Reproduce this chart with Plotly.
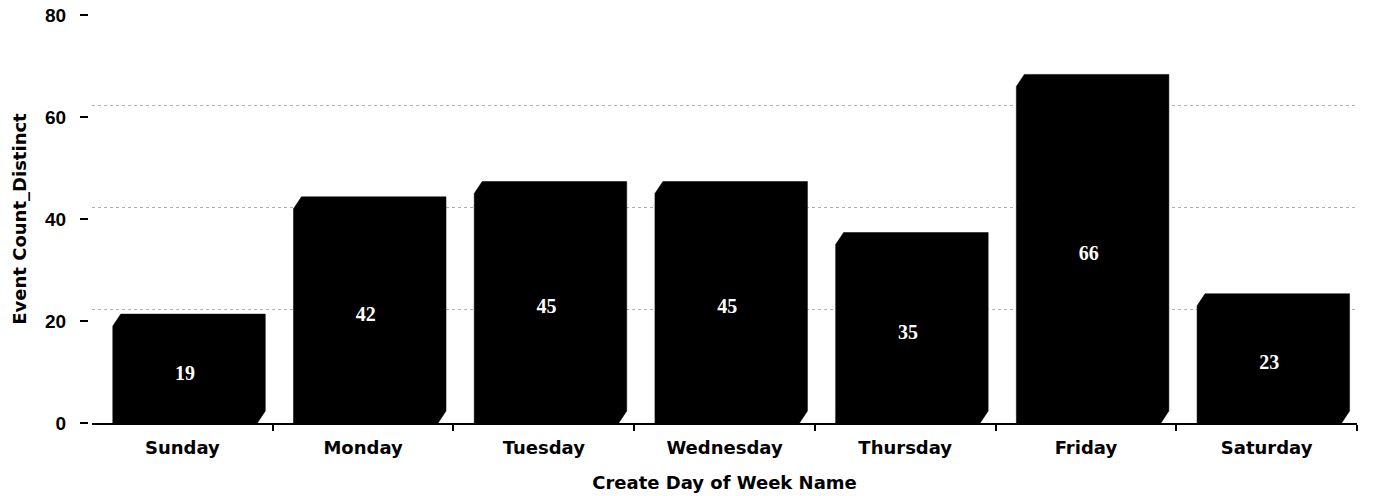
import plotly.graph_objects as go

days = ["Sunday", "Monday", "Tuesday", "Wednesday", "Thursday", "Friday", "Saturday"]
counts = [19, 42, 45, 45, 35, 66, 23]
y_ticks = [0, 20, 40, 60, 80]
x_title = "Create Day of Week Name"
y_title = "Event Count_Distinct"

# geometry of the pseudo-3D bars (in axis units)
BAR_OFFSET = -0.385
BAR_WIDTH = 0.80
DEPTH_X = 0.044
DEPTH_Y = 2.35

fig = go.Figure()

xs = list(range(len(days)))

# each bar: front face + top + right side as one solid polygon
for i, v in zip(xs, counts):
    L = i + BAR_OFFSET
    R = L + BAR_WIDTH
    px = [L, L, L + DEPTH_X, R + DEPTH_X, R + DEPTH_X, R, L]
    py = [0, v, v + DEPTH_Y, v + DEPTH_Y, DEPTH_Y, 0, 0]
    fig.add_trace(go.Scatter(
        x=px, y=py, mode="lines", fill="toself", fillcolor="black",
        line=dict(color="black", width=0.5), showlegend=False, hoverinfo="skip",
    ))

# value labels centred on the front faces
fig.add_trace(go.Scatter(
    x=[i + BAR_OFFSET + BAR_WIDTH / 2 for i in xs], y=[v / 2 for v in counts],
    mode="text", text=[f"<b>{v}</b>" for v in counts],
    textfont=dict(color="white", family="Liberation Serif", size=20),
    showlegend=False, hoverinfo="skip",
))

# dummy trace for the back-wall grid axis
fig.add_trace(go.Scatter(x=[None], y=[None], yaxis="y2", showlegend=False, hoverinfo="skip"))

W, H = 1373, 496
L_M, R_M, T_M, B_M = 88, 16, 15, 73
paper_w = W - L_M - R_M

fig.update_layout(
    width=W, height=H,
    margin=dict(l=L_M, r=R_M, t=T_M, b=B_M),
    paper_bgcolor="white", plot_bgcolor="white",
    font=dict(family="DejaVu Sans", color="black"),
    xaxis=dict(
        domain=[4 / paper_w, 1],
        range=[-0.5, len(days) - 0.5],
        tickvals=xs, ticktext=days, ticks="",
        tickfont=dict(family="DejaVu Sans", size=18, weight="bold"),
        ticklabelstandoff=8,
        showline=True, linecolor="black", linewidth=1.5,
        showgrid=False, zeroline=False, automargin=False,
        minor=dict(tickvals=[i + 0.5 for i in xs], ticks="outside", ticklen=6,
                   tickcolor="black", tickwidth=1.5, showgrid=False),
        title=dict(text=x_title, font=dict(family="DejaVu Sans", size=18, weight="bold"), standoff=19),
        fixedrange=True,
    ),
    yaxis=dict(
        anchor="free", position=0,
        range=[0, 80], tickvals=y_ticks,
        ticks="outside", ticklen=8, tickcolor="black", tickwidth=1.5,
        tickfont=dict(family="Liberation Sans", size=19, weight="bold"),
        ticklabelstandoff=10, ticklabeloverflow="allow",
        showline=False, showgrid=False, zeroline=False, automargin=False,
        title=dict(text=y_title, font=dict(family="DejaVu Sans", size=18, weight="bold"), standoff=12),
        fixedrange=True,
    ),
    yaxis2=dict(
        overlaying="y", anchor="x", side="left",
        range=[-DEPTH_Y, 80 - DEPTH_Y], tickvals=y_ticks[1:],
        showticklabels=False, ticks="", showline=False, zeroline=False,
        showgrid=True, gridcolor="#b0b0b0", griddash="dot", gridwidth=1,
        automargin=False, fixedrange=True,
    ),
)

# remove the browser's default 8px page margin so the figure fills the window
fig.write_html("out.html", config={"displayModeBar": False},
               post_script="document.body.style.margin='0';")
